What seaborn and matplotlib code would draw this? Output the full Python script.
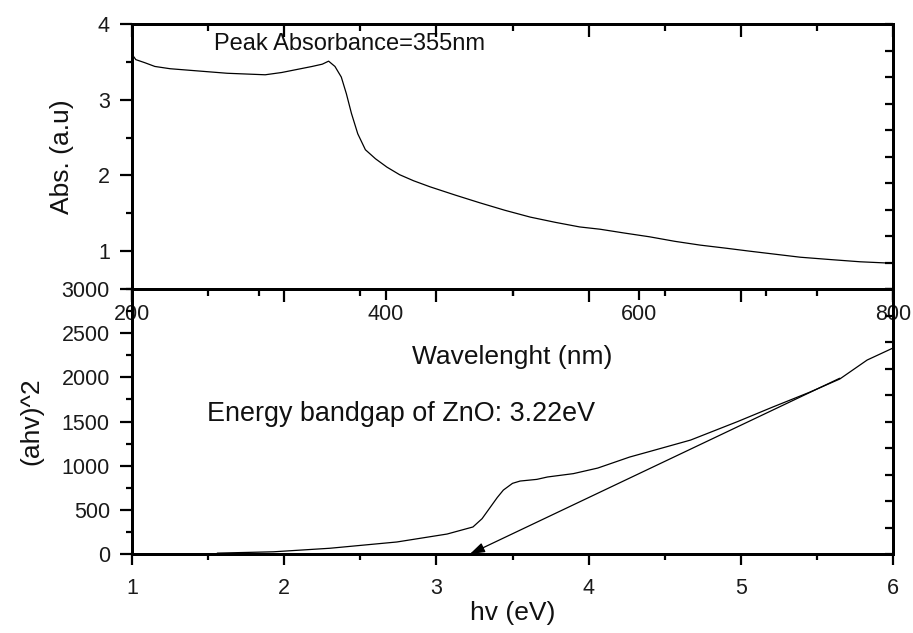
import matplotlib
matplotlib.use("Agg")
import matplotlib.pyplot as plt
from matplotlib.ticker import MultipleLocator, FixedLocator
import seaborn as sns

# UV-Vis absorbance spectrum of ZnO
wavelength_nm = [200, 203, 210, 218, 230, 245, 260, 275, 290, 305, 318, 330,
                 342, 350, 355, 360, 365, 369, 373, 378, 384, 392, 401, 411,
                 422, 435, 455, 474, 494, 514, 534, 553, 569, 588, 608, 628,
                 648, 668, 687, 707, 727, 750, 774, 800]
absorbance = [3.60, 3.53, 3.49, 3.44, 3.41, 3.39, 3.37, 3.35, 3.34, 3.33, 3.36, 3.40,
              3.44, 3.47, 3.51, 3.44, 3.30, 3.08, 2.82, 2.55, 2.34, 2.22, 2.11, 2.01,
              1.93, 1.85, 1.74, 1.64, 1.54, 1.45, 1.38, 1.32, 1.29, 1.24, 1.19, 1.13,
              1.08, 1.04, 1.00, 0.96, 0.92, 0.89, 0.86, 0.84]
peak_nm = 355

# Tauc plot
photon_energy_ev = [1.56, 1.93, 2.30, 2.74, 3.07, 3.24, 3.30, 3.35, 3.40, 3.44,
                    3.50, 3.55, 3.66, 3.73, 3.90, 4.06, 4.27, 4.40, 4.67, 4.98,
                    5.21, 5.45, 5.65, 5.83, 6.00]
tauc_values = [10, 25, 65, 136, 226, 306, 400, 520, 640, 724,
               800, 826, 845, 872, 910, 973, 1098, 1160, 1290, 1500,
               1664, 1830, 1981, 2196, 2332]
bandgap_ev = 3.22
tangent_start = (5.65, 1990)

sns.set_style("ticks")
plt.rcParams["font.family"] = ["Liberation Sans", "DejaVu Sans"]
plt.rcParams.update({
    "axes.linewidth": 2.0,
    "axes.edgecolor": "black",
    "axes.labelcolor": "#111111",
    "text.color": "#111111",
    "xtick.color": "black",
    "ytick.color": "black",
    "xtick.labelcolor": "#1a1a1a",
    "ytick.labelcolor": "#1a1a1a",
})

fig = plt.figure(figsize=(9.13, 6.33), dpi=100)
ax_top = fig.add_axes([0.1446, 0.5434, 0.8335, 0.4186])
ax_bot = fig.add_axes([0.1446, 0.1248, 0.8335, 0.4186])
ax_bot.patch.set_alpha(0)

line_kw = dict(color="black", linewidth=0.9, estimator=None)
tick_size = 15.5
label_size = 19

# ---- absorbance panel ----
sns.lineplot(x=wavelength_nm, y=absorbance, ax=ax_top, **line_kw)
ax_top.set_xlim(200, 800)
ax_top.set_ylim(0.5, 4)
ax_top.xaxis.set_major_locator(FixedLocator([200, 400, 600, 800]))
ax_top.xaxis.set_minor_locator(MultipleLocator(100))
ax_top.yaxis.set_major_locator(FixedLocator([1, 2, 3, 4]))
ax_top.yaxis.set_minor_locator(MultipleLocator(0.5))
ax_top.tick_params(axis="x", which="both", direction="out", bottom=True, top=False,
                   width=1.6, labelsize=tick_size, pad=3)
ax_top.tick_params(axis="x", which="major", length=8)
ax_top.tick_params(axis="x", which="minor", length=5)
ax_top.tick_params(axis="y", which="both", direction="out", left=True, right=False,
                   width=1.6, labelsize=tick_size, pad=7)
ax_top.tick_params(axis="y", which="major", length=9)
ax_top.tick_params(axis="y", which="minor", length=4)
ax_top.set_xlabel("Wavelenght (nm)", fontsize=label_size, labelpad=14)
ax_top.set_ylabel("Abs. (a.u)", fontsize=label_size, labelpad=17)
ax_top.text(265, 3.66, f"Peak Absorbance={peak_nm}nm", fontsize=17,
            ha="left", va="baseline")

top_twin_x = ax_top.twiny()
top_twin_x.set_xlim(1, 6)
top_twin_x.xaxis.set_major_locator(MultipleLocator(1))
top_twin_x.xaxis.set_minor_locator(MultipleLocator(0.5))
top_twin_x.tick_params(axis="x", which="both", direction="in", top=True, bottom=False,
                       labeltop=False, width=1.6)
top_twin_x.tick_params(axis="x", which="major", length=9)
top_twin_x.tick_params(axis="x", which="minor", length=5)

top_twin_y = ax_top.twinx()
top_twin_y.set_ylim(0, 10)
top_twin_y.yaxis.set_major_locator(MultipleLocator(1))
top_twin_y.tick_params(axis="y", direction="in", right=True, left=False,
                       labelright=False, width=1.6, length=6)

# ---- Tauc panel ----
sns.lineplot(x=photon_energy_ev, y=tauc_values, ax=ax_bot, **line_kw)
ax_bot.annotate("", xy=(bandgap_ev, 0), xytext=tangent_start,
                arrowprops=dict(arrowstyle="-|>,head_length=0.9,head_width=0.3",
                                color="black", lw=0.9, shrinkA=0, shrinkB=0))
ax_bot.set_xlim(1, 6)
ax_bot.set_ylim(0, 3000)
ax_bot.xaxis.set_major_locator(MultipleLocator(1))
ax_bot.xaxis.set_minor_locator(MultipleLocator(0.5))
ax_bot.yaxis.set_major_locator(MultipleLocator(500))
ax_bot.yaxis.set_minor_locator(MultipleLocator(250))
ax_bot.tick_params(axis="x", which="both", direction="out", bottom=True, top=False,
                   width=1.6, labelsize=tick_size, pad=9)
ax_bot.tick_params(axis="x", which="major", length=8)
ax_bot.tick_params(axis="x", which="minor", length=4)
ax_bot.tick_params(axis="y", which="both", direction="out", left=True, right=False,
                   width=1.6, labelsize=tick_size, pad=7)
ax_bot.tick_params(axis="y", which="major", length=9)
ax_bot.tick_params(axis="y", which="minor", length=4)
ax_bot.set_xlabel("hv (eV)", fontsize=label_size, labelpad=2)
ax_bot.set_ylabel("(ahv)^2", fontsize=label_size, labelpad=13)
ax_bot.text(1.49, 1506, f"Energy bandgap of ZnO: {bandgap_ev:.2f}eV", fontsize=19.4,
            ha="left", va="baseline")

bot_twin_x = ax_bot.twiny()
bot_twin_x.set_xlim(1, 6)
bot_twin_x.xaxis.set_major_locator(MultipleLocator(1))
bot_twin_x.xaxis.set_minor_locator(MultipleLocator(0.5))
bot_twin_x.tick_params(axis="x", which="both", direction="in", top=True, bottom=False,
                       labeltop=False, width=1.6)
bot_twin_x.tick_params(axis="x", which="major", length=9)
bot_twin_x.tick_params(axis="x", which="minor", length=5)

bot_twin_y = ax_bot.twinx()
bot_twin_y.set_ylim(0, 10)
bot_twin_y.yaxis.set_major_locator(MultipleLocator(1))
bot_twin_y.tick_params(axis="y", direction="in", right=True, left=False,
                       labelright=False, width=1.6, length=6)

fig.savefig("out.png", dpi=100, facecolor="white")
